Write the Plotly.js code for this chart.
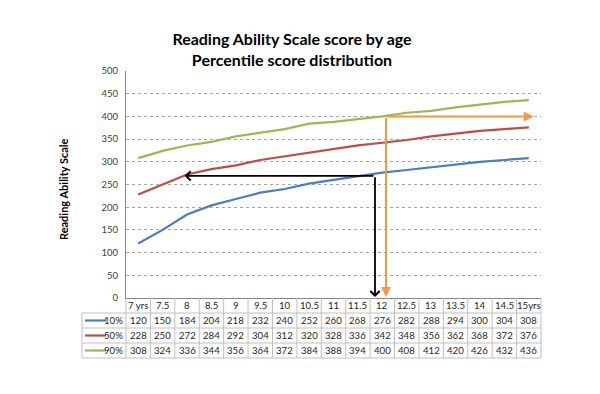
<!DOCTYPE html>
<html>
<head>
<meta charset="utf-8">
<script src="https://cdn.plot.ly/plotly-3.0.1.min.js"></script>
<style>html,body{margin:0;padding:0;background:#fff;}#chart{width:600px;height:394px;}</style>
</head>
<body>
<div id="chart"></div>
<script>
const categories = ['7 yrs','7.5','8','8.5','9','9.5','10','10.5','11','11.5','12','12.5','13','13.5','14','14.5','15yrs'];
const p10 = [120,150,184,204,218,232,240,252,260,268,276,282,288,294,300,304,308];
const p50 = [228,250,272,284,292,304,312,320,328,336,342,348,356,362,368,372,376];
const p90 = [308,324,336,344,356,364,372,384,388,394,400,408,412,420,426,432,436];
const seriesNames = ['10%','50%','90%'];
const seriesColors = ['#4a7ebb','#be4b48','#98b954'];
const seriesData = [p10, p50, p90];

const FONT = 'Lato, "Open Sans", sans-serif';
const n = categories.length;
const traces = seriesData.map((d,i)=>({
  type:'scatter', mode:'lines', x:categories, y:d, name:seriesNames[i],
  line:{color:seriesColors[i], width:2.2}, hoverinfo:'skip'
}));

// table geometry (paper coords): plot area is 415px wide, 227px tall
const PH = 227, PW = 415;
const rowY = px => -(px)/PH;      // px below axis
const rowBounds = [0, 15, 30, 45, 60]; // header, 10%, 50%, 90%
const legendLeft = -44/PW;
const gridColor = '#bfbfbf';
const shapes = [];
rowBounds.forEach((b,k)=>{
  if(k===0) return;
  shapes.push({type:'line', xref:'paper', yref:'paper', x0:(k===1?0:legendLeft), x1:1, y0:rowY(b), y1:rowY(b), line:{color:gridColor,width:1}});
});
shapes.push({type:'line', xref:'paper', yref:'paper', x0:legendLeft, x1:0, y0:rowY(15), y1:rowY(15), line:{color:gridColor,width:1}});
for(let i=0;i<=n;i++){
  shapes.push({type:'line', xref:'paper', yref:'paper', x0:i/n, x1:i/n, y0:0, y1:rowY(60), line:{color:gridColor,width:1}});
}
shapes.push({type:'line', xref:'paper', yref:'paper', x0:legendLeft, x1:legendLeft, y0:rowY(15), y1:rowY(60), line:{color:gridColor,width:1}});

const annotations = [];
const tfont = {family:FONT,size:9.6,color:'#262626'};
categories.forEach((c,i)=>{
  annotations.push({xref:'x', yref:'paper', x:i, y:rowY(7.5), text:c, showarrow:false, font:tfont, xanchor:'center', yanchor:'middle'});
});
seriesData.forEach((d,r)=>{
  const yc = rowY(15*(r+1)+7.5);
  d.forEach((v,i)=>{
    annotations.push({xref:'x', yref:'paper', x:i, y:yc, text:String(v), showarrow:false, font:tfont, xanchor:'center', yanchor:'middle'});
  });
  annotations.push({xref:'paper', yref:'paper', x:-1/PW, y:yc, text:seriesNames[r], showarrow:false, font:tfont, xanchor:'right', yanchor:'middle'});
  shapes.push({type:'line', xref:'paper', yref:'paper', x0:-41/PW, x1:-20/PW, y0:yc, y1:yc, line:{color:seriesColors[r],width:2.2}});
});

annotations.push({xref:'paper', yref:'paper', x:-63/PW, y:0.48, text:'<b>Reading Ability Scale</b>', textangle:-90, showarrow:false, font:{family:FONT,size:11,color:'#000'}, xanchor:'center', yanchor:'middle'});

const blackX = 9.7, blackY = 269;
const orangeX = 10.15, orangeY = 400;
annotations.push({xref:'x', yref:'y', axref:'x', ayref:'y', x:1.9, y:blackY, ax:blackX, ay:blackY, text:'', showarrow:true, arrowhead:4, arrowsize:1, arrowwidth:1.8, arrowcolor:'#000'});
annotations.push({xref:'x', yref:'y', axref:'x', ayref:'y', x:blackX, y:2, ax:blackX, ay:blackY, text:'', showarrow:true, arrowhead:4, arrowsize:1, arrowwidth:1.8, arrowcolor:'#000'});
annotations.push({xref:'x', yref:'y', axref:'x', ayref:'y', x:16.2, y:orangeY, ax:orangeX, ay:orangeY, text:'', showarrow:true, arrowhead:2, arrowsize:1, arrowwidth:2, arrowcolor:'#f79646'});
annotations.push({xref:'x', yref:'y', axref:'x', ayref:'y', x:orangeX, y:2, ax:orangeX, ay:orangeY, text:'', showarrow:true, arrowhead:2, arrowsize:1, arrowwidth:2, arrowcolor:'#f79646'});

const layout = {
  width:600, height:394,
  margin:{l:126, r:59, t:71, b:96},
  paper_bgcolor:'#fff', plot_bgcolor:'#fff',
  showlegend:false,
  title:{text:'<b>Reading Ability Scale score by age<br>Percentile score distribution</b>', x:292/600, xanchor:'center', y:0.885, yanchor:'top', font:{family:FONT, size:16, color:'#000'}},
  xaxis:{type:'category', range:[-0.5, n-0.5], showgrid:false, showticklabels:false, ticks:'', showline:true, linecolor:'#868686', linewidth:1, zeroline:false, fixedrange:true},
  yaxis:{range:[0,500], dtick:50, tick0:0, showgrid:true, gridcolor:'#a6a6a6', griddash:'dot', gridwidth:1, showline:true, linecolor:'#868686', linewidth:1, ticks:'', zeroline:false, tickfont:{family:FONT,size:9.5,color:'#404040'}, ticklabelstandoff:5, fixedrange:true},
  shapes:shapes,
  annotations:annotations
};
Plotly.newPlot('chart', traces, layout, {displayModeBar:false, staticPlot:true});
</script>
</body>
</html>
